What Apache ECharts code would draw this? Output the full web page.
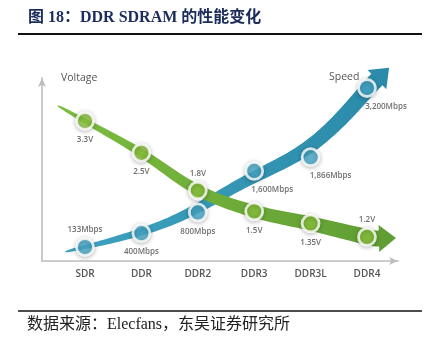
<!DOCTYPE html>
<html>
<head>
<meta charset="utf-8">
<script src="https://cdn.jsdelivr.net/npm/echarts@6/dist/echarts.min.js"></script>
<style>
  html, body { margin: 0; padding: 0; background: #fff; }
  #chart { width: 435px; height: 343px; }
</style>
</head>
<body>
<div id="chart"></div>
<script>
// DDR generations and their supply voltage / transfer rate
const categories = ['SDR', 'DDR', 'DDR2', 'DDR3', 'DDR3L', 'DDR4'];
const voltage = [3.3, 2.5, 1.8, 1.5, 1.35, 1.2];      // V
const speed = [133, 400, 800, 1600, 1866, 3200];      // Mbps

const titleText = '图 18：DDR SDRAM 的性能变化';
const sourceText = '数据来源：Elecfans，东吴证券研究所';

// label placement for each point (style only)
const voltageLabelPos = ['bottom', 'bottom', 'top', 'bottom', 'bottom', 'top'];
const speedLabelPos = ['top', 'bottom', 'bottom', 'bottom', 'bottom', 'bottom'];
const speedLabelShift = [0, 0, 0, 18, 20, 19];

const chart = echarts.init(document.getElementById('chart'), null, { renderer: 'canvas' });

// Catmull-Rom sampling through a list of pixel points
function spline(pts, steps) {
  const out = [];
  for (let i = 0; i < pts.length - 1; i++) {
    const p0 = pts[Math.max(0, i - 1)], p1 = pts[i], p2 = pts[i + 1], p3 = pts[Math.min(pts.length - 1, i + 2)];
    for (let s = 0; s < steps; s++) {
      const t = s / steps, t2 = t * t, t3 = t2 * t;
      out.push([0, 1].map(k => 0.5 * ((2 * p1[k]) + (-p0[k] + p2[k]) * t +
        (2 * p0[k] - 5 * p1[k] + 4 * p2[k] - p3[k]) * t2 +
        (-p0[k] + 3 * p1[k] - 3 * p2[k] + p3[k]) * t3)));
    }
  }
  out.push(pts[pts.length - 1]);
  return out;
}

// gentle relaxation of a sampled path, end points held in place
function relax(path, iterations) {
  let p = path.map(q => q.slice());
  for (let it = 0; it < iterations; it++) {
    const next = p.map(q => q.slice());
    for (let i = 1; i < p.length - 1; i++) {
      next[i][0] = (p[i - 1][0] + 2 * p[i][0] + p[i + 1][0]) / 4;
      next[i][1] = (p[i - 1][1] + 2 * p[i][1] + p[i + 1][1]) / 4;
    }
    p = next;
  }
  return p;
}

// Tapered ribbon with an arrow head, running through the data points
function ribbon(pts, o) {
  const n = pts.length;
  const p0 = pts[0], p1 = pts[1];
  const tail = [p0[0] + (p0[0] - p1[0]) * o.tailK, p0[1] + (p0[1] - p1[1]) * o.tailK];
  const b = pts[n - 1];
  const dl = Math.hypot(o.endDir[0], o.endDir[1]);
  const dx = o.endDir[0] / dl, dy = o.endDir[1] / dl;
  const end = [b[0] + dx * o.bodyExt, b[1] + dy * o.bodyExt];
  const path = relax(spline([tail].concat(pts, [end]), 14), o.smooth);
  const acc = [0];
  for (let i = 1; i < path.length; i++) {
    acc.push(acc[i - 1] + Math.hypot(path[i][0] - path[i - 1][0], path[i][1] - path[i - 1][1]));
  }
  const total = acc[acc.length - 1];
  const left = [], right = [];
  let nx = 0, ny = 0, tx = 1, ty = 0;
  for (let i = 0; i < path.length; i++) {
    const q0 = path[Math.max(0, i - 2)], q1 = path[Math.min(path.length - 1, i + 2)];
    tx = q1[0] - q0[0]; ty = q1[1] - q0[1];
    const l = Math.hypot(tx, ty) || 1;
    tx /= l; ty /= l;
    nx = -ty; ny = tx;
    const hw = o.w0 + (o.w1 - o.w0) * Math.pow(acc[i] / total, 0.55);
    left.push([path[i][0] + nx * hw, path[i][1] + ny * hw]);
    right.push([path[i][0] - nx * hw, path[i][1] - ny * hw]);
  }
  const e = path[path.length - 1];
  const head = [
    [e[0] + nx * o.headW, e[1] + ny * o.headW],
    [e[0] + tx * o.headL, e[1] + ty * o.headL],
    [e[0] - nx * o.headW, e[1] - ny * o.headW]
  ];
  return left.concat(head, right.reverse());
}

function bandSeries(values, yAxisIndex, o, colors, blend) {
  return {
    type: 'custom',
    xAxisIndex: 0,
    yAxisIndex: yAxisIndex,
    clip: false,
    z: 1,
    silent: true,
    data: [[0, values[0]]],
    renderItem: function (params, api) {
      const pts = categories.map((c, i) => api.coord([i, values[i]]));
      const style = {
        fill: new echarts.graphic.LinearGradient(0, 0, 1, 0, [
          { offset: 0, color: colors[0] },
          { offset: 1, color: colors[1] }
        ])
      };
      if (blend) style.blend = blend;
      return { type: 'polygon', shape: { points: ribbon(pts, o) }, style: style };
    }
  };
}

const labelFont = { fontFamily: 'Open Sans', fontSize: 8, fontWeight: 600, color: '#4a4a4a' };

const pointStyle = (color) => ({
  color: color,
  borderColor: '#fff',
  borderWidth: 2.8,
  shadowBlur: 4,
  shadowColor: 'rgba(0,0,0,0.28)',
  shadowOffsetY: 1
});

const voltageData = voltage.map((v, i) => ({
  value: [i, v],
  label: { position: voltageLabelPos[i], distance: voltageLabelPos[i] === 'top' ? 3 : 5 }
}));

const speedData = speed.map((v, i) => ({
  value: [i, v],
  label: {
    position: speedLabelPos[i],
    distance: speedLabelPos[i] === 'top' ? 3 : 5,
    offset: [speedLabelShift[i], 0]
  }
}));

const option = {
  backgroundColor: '#fff',
  animation: false,
  grid: [
    { left: 56.8, right: 39.8, top: 72, bottom: 82 },   // plotting area
    { left: 42, right: 37, top: 78, bottom: 82 }         // arrowed frame
  ],
  xAxis: [
    {
      type: 'category', gridIndex: 0, data: categories, boundaryGap: true,
      axisLine: { show: false }, axisTick: { show: false }, splitLine: { show: false },
      axisLabel: { margin: 8, fontFamily: 'Open Sans', fontSize: 10, fontWeight: 600, color: '#555' }
    },
    {
      type: 'value', gridIndex: 1, min: 0, max: 1,
      axisLine: { show: true, lineStyle: { color: '#bdbdbd', width: 1.6 }, symbol: ['none', 'arrow'], symbolSize: [6, 9] },
      axisTick: { show: false }, axisLabel: { show: false }, splitLine: { show: false }
    }
  ],
  yAxis: [
    {
      type: 'log', gridIndex: 0, logBase: 10, min: 0.973, max: 5.06,
      show: false, splitLine: { show: false }
    },
    {
      type: 'value', gridIndex: 0, min: -137, max: 3509,
      show: false, splitLine: { show: false }
    },
    {
      type: 'value', gridIndex: 1, min: 0, max: 1,
      axisLine: { show: true, lineStyle: { color: '#bdbdbd', width: 1.6 }, symbol: ['none', 'arrow'], symbolSize: [6, 9] },
      axisTick: { show: false }, axisLabel: { show: false }, splitLine: { show: false }
    }
  ],
  graphic: [
    {
      type: 'text', left: 28, top: 10,
      style: { text: titleText, fontFamily: "'Liberation Serif', 'Noto Sans CJK SC'", fontWeight: 'bold', fontSize: 16, fill: '#1c2c5b' }
    },
    { type: 'line', shape: { x1: 18, y1: 34, x2: 422, y2: 34 }, style: { stroke: '#111', lineWidth: 2 } },
    { type: 'line', shape: { x1: 18, y1: 311, x2: 422, y2: 311 }, style: { stroke: '#111', lineWidth: 1.5 } },
    {
      type: 'text', left: 27, top: 317,
      style: { text: sourceText, fontFamily: "'Liberation Serif', 'Noto Sans CJK SC'", fontSize: 16, fill: '#222' }
    },
    {
      type: 'text', left: 61, top: 73,
      style: { text: 'Voltage', fontFamily: 'Open Sans', fontSize: 10.5, fill: '#555' }
    },
    {
      type: 'text', left: 329, top: 72,
      style: { text: 'Speed', fontFamily: 'Open Sans', fontSize: 10.5, fill: '#555' }
    }
  ],
  series: [
    bandSeries(speed, 1, { tailK: 0.35, bodyExt: 13, headL: 17, headW: 13.5, w0: 0.5, w1: 8, smooth: 150, endDir: [1, -0.85] }, ['#3fa3c0', '#2a8aa9'], null),
    bandSeries(voltage, 0, { tailK: 0.48, bodyExt: 12, headL: 17, headW: 13.5, w0: 0.5, w1: 8, smooth: 10, endDir: [1, 0.12] }, ['#7cbc3e', '#5f9d33'], 'multiply'),
    {
      type: 'scatter', xAxisIndex: 0, yAxisIndex: 0, z: 3,
      symbol: 'circle', symbolSize: 17,
      itemStyle: pointStyle('#8cc63f'),
      label: Object.assign({ show: true, formatter: p => voltage[p.dataIndex] + 'V' }, labelFont),
      data: voltageData
    },
    {
      type: 'scatter', xAxisIndex: 0, yAxisIndex: 1, z: 3,
      symbol: 'circle', symbolSize: 17,
      itemStyle: pointStyle('#47a9c8'),
      label: Object.assign({ show: true, formatter: p => speed[p.dataIndex].toLocaleString('en-US') + 'Mbps' }, labelFont),
      data: speedData
    }
  ]
};

chart.setOption(option);
</script>
</body>
</html>
